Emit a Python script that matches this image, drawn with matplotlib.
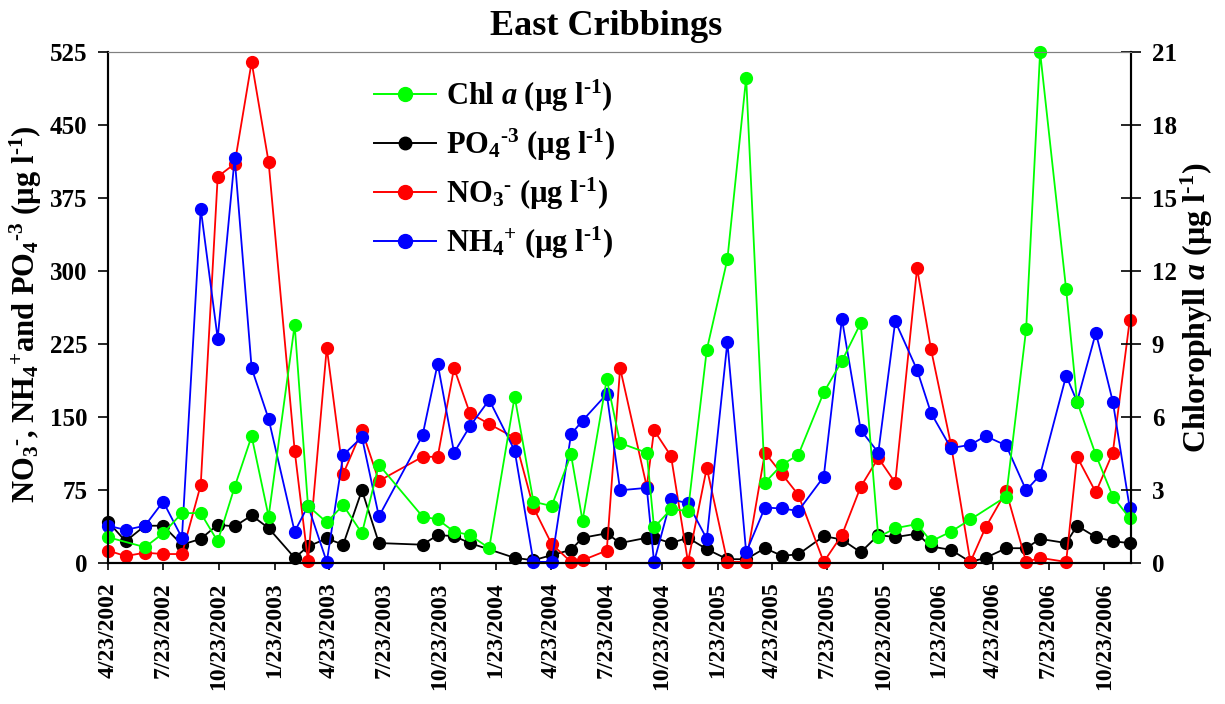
import pandas as pd
import numpy as np
import matplotlib
matplotlib.use("Agg")
import matplotlib.pyplot as plt
from matplotlib.lines import Line2D

# ===== data =====
dates = ["2002-04-23", "2002-05-22", "2002-06-23", "2002-07-23", "2002-08-23", "2002-09-23",
         "2002-10-21", "2002-11-18", "2002-12-16", "2003-01-13", "2003-02-25", "2003-03-19",
         "2003-04-19", "2003-05-16", "2003-06-16", "2003-07-14", "2003-09-24", "2003-10-19",
         "2003-11-15", "2003-12-11", "2004-01-12", "2004-02-23", "2004-03-25", "2004-04-24",
         "2004-05-26", "2004-06-14", "2004-07-24", "2004-08-15", "2004-09-28", "2004-10-10",
         "2004-11-07", "2004-12-05", "2005-01-05", "2005-02-08", "2005-03-11", "2005-04-11",
         "2005-05-09", "2005-06-05", "2005-07-17", "2005-08-16", "2005-09-16", "2005-10-15",
         "2005-11-12", "2005-12-18", "2006-01-10", "2006-02-12", "2006-03-16", "2006-04-10",
         "2006-05-14", "2006-06-16", "2006-07-09", "2006-08-21", "2006-09-08", "2006-10-09",
         "2006-11-06", "2006-12-04"]

chl = [1.06, None, 0.65, 1.22, 2.05, 2.05, 0.89, 3.13, 5.21, 1.91, 9.78, 2.35,
       1.67, 2.38, 1.22, 4.04, 1.91, 1.79, 1.29, 1.15, 0.61, 6.84, 2.52, 2.34,
       4.46, 1.74, 7.55, 4.93, 4.53, 1.46, 2.21, 2.14, 8.76, 12.48, 19.95, 3.30,
       4.04, 4.44, 7.01, 8.30, 9.86, 1.06, 1.43, 1.60, 0.89, 1.29, 1.79, None,
       2.73, 9.61, 21.0, 11.24, 6.63, 4.44, 2.73, 1.84]

po4 = [42.5, 22.3, 38.3, 38.3, 18.8, 24.8, 39.3, 37.6, 48.9, 35.8, 5.3, 17.0,
       25.2, 18.8, 74.7, 20.5, 18.8, 28.7, 27.6, 20.5, None, 5.3, 2.8, 8.1,
       13.5, 25.9, 30.5, 20.5, 25.9, 25.9, 20.5, 25.9, 14.2, 3.9, 3.9, 15.2,
       7.4, 8.9, 27.6, 24.1, 11.0, 28.7, 26.6, 30.1, 17.0, 13.5, 1.1, 5.3,
       15.2, 15.2, 24.8, 20.5, 38.3, 26.6, 22.3, 20.5]

no3 = [12.8, 7.1, 10.6, 9.2, 9.2, 80.1, 396.8, 410.2, 514.7, 412.0, 115.5, 1.8,
       221.4, 91.4, 136.4, 84.3, 109.1, 109.1, 200.2, 154.1, 142.8, 128.6, 57.0, 19.5,
       1.1, 2.8, 12.8, 200.2, 78.3, 136.4, 109.8, 1.1, 97.8, 1.1, 1.1, 113.4,
       91.4, 70.1, 1.1, 28.7, 78.3, 108.0, 82.5, 302.9, 219.6, 121.5, 1.1, 36.5,
       73.7, 1.1, 5.3, 1.1, 109.1, 72.6, 113.4, 250.1]

nh4 = [38.3, 34.0, 38.3, 63.1, 25.9, 364.2, 230.6, 416.2, 200.2, 148.1, 32.2, 58.8,
       1.1, 110.9, 129.3, 47.8, 131.1, 204.8, 113.4, 140.3, 167.6, 115.5, 1.1, 1.1,
       132.1, 146.3, 173.6, 74.7, 77.2, 1.1, 65.5, 61.3, 24.8, 227.1, 11.0, 57.0,
       56.0, 53.5, 88.6, 250.8, 136.7, 113.4, 248.3, 198.4, 154.1, 118.0, 121.5, 130.4,
       120.8, 74.7, 90.3, 192.4, 165.8, 236.6, 165.8, 56.0]

tick_dates = ["2002-04-23", "2002-07-23", "2002-10-23", "2003-01-23", "2003-04-23",
              "2003-07-23", "2003-10-23", "2004-01-23", "2004-04-23", "2004-07-23",
              "2004-10-23", "2005-01-23", "2005-04-23", "2005-07-23", "2005-10-23",
              "2006-01-23", "2006-04-23", "2006-07-23", "2006-10-23"]

# ===== fonts (Times-like, bold everywhere) =====
plt.rcParams["font.family"] = ["Liberation Serif", "DejaVu Serif"]
plt.rcParams["font.weight"] = "bold"
plt.rcParams["mathtext.fontset"] = "custom"
plt.rcParams["mathtext.rm"] = "Liberation Serif:bold"
plt.rcParams["mathtext.bf"] = "Liberation Serif:bold"
plt.rcParams["mathtext.it"] = "Liberation Serif:italic:bold"

df = pd.DataFrame({"chl": chl, "po4": po4, "no3": no3, "nh4": nh4},
                  index=pd.to_datetime(dates), dtype=float)

fig = plt.figure(figsize=(12.25, 7.04), dpi=100)
ax = fig.add_axes([108 / 1225, 1 - 563 / 704, (1131 - 108) / 1225, (563 - 52) / 704])
ax2 = ax.twinx()

mk = dict(marker="o", markersize=8.5, linewidth=1.3, clip_on=False)

def series(col):
    s = df[col].dropna()
    return s.index, s.values

x, y = series("po4")
ax.plot(x, y, color="black", **mk)
x, y = series("no3")
ax.plot(x, y, color="#ff0000", **mk)
x, y = series("nh4")
ax.plot(x, y, color="#0000ff", **mk)
x, y = series("chl")
ax2.plot(x, y, color="#00ff00", **mk)

ax.set_xlim(pd.Timestamp("2002-04-23"), pd.Timestamp("2006-12-06"))
ax.set_ylim(0, 525)
ax2.set_ylim(0, 21)
ax.set_yticks(np.arange(0, 526, 75))
ax2.set_yticks(np.arange(0, 22, 3))

ticks = pd.to_datetime(tick_dates)
ax.set_xticks(ticks)
ax.set_xticklabels([f"{t.month}/{t.day}/{t.year}" for t in ticks], rotation=90)

ax.tick_params(axis="x", labelsize=17, length=5, width=1.2, direction="out", pad=9)
ax.tick_params(axis="y", labelsize=18, length=7, width=1.2, direction="out", pad=8)
ax2.tick_params(axis="y", labelsize=18, length=14, width=1.2, direction="inout", pad=8)
for lab in ax.get_xticklabels() + ax.get_yticklabels() + ax2.get_yticklabels():
    lab.set_fontweight("bold")

for a in (ax, ax2):
    a.spines["top"].set_color("#808080")
    a.spines["left"].set_linewidth(1.5)
    a.spines["bottom"].set_linewidth(1.5)
    a.spines["right"].set_linewidth(1.5)

# units with plain hyphens, sub then sup like the original
unit = r"(µg l$^{\text{-1}}$)"
ax.set_ylabel(r"NO$_3{}^{\text{-}}$, NH$_4{}^{+}$and PO$_4{}^{\text{-3}}$ " + unit,
              fontsize=22, fontweight="bold")
ax.yaxis.set_label_coords(-0.063, 0.487)
ax2.set_ylabel(r"Chlorophyll $\mathit{a}$ " + unit, fontsize=23, fontweight="bold")
ax2.yaxis.set_label_coords(1.047, 0.5)
ax.set_title("East Cribbings", fontsize=26, fontweight="bold", pad=12, x=0.487)

handles = [
    Line2D([], [], color="#00ff00", marker="o", markersize=10, linewidth=1.4),
    Line2D([], [], color="black", marker="o", markersize=9, linewidth=1.4),
    Line2D([], [], color="#ff0000", marker="o", markersize=10, linewidth=1.4),
    Line2D([], [], color="#0000ff", marker="o", markersize=10, linewidth=1.4),
]
labels = [
    r"Chl $\mathit{a}$ " + unit,
    r"PO$_4{}^{\text{-3}}$ " + unit,
    r"NO$_3{}^{\text{-}}$ " + unit,
    r"NH$_4{}^{+}$ " + unit,
]
ax2.legend(handles, labels, loc="upper left",
           bbox_to_anchor=(346 / 1225, 1 - 50 / 704), bbox_transform=fig.transFigure,
           frameon=False, handlelength=2.05, labelspacing=0.42,
           handletextpad=0.33, borderpad=0.4,
           prop={"weight": "bold", "size": 22})

fig.savefig("out.png", dpi=100)
